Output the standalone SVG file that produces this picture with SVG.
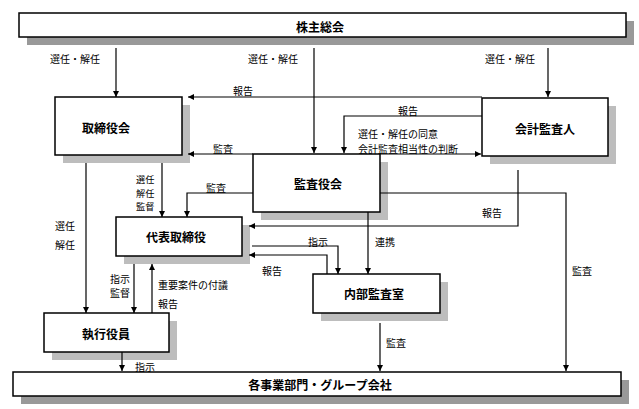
<svg xmlns="http://www.w3.org/2000/svg" width="639" height="409" viewBox="0 0 639 409">
<style>
.box{fill:#fff;stroke:#000;stroke-width:1.5}
.sh{fill:#bdbdbd}
.shd{fill:#999}
.t{font-family:"Noto Sans CJK JP","Noto Sans",sans-serif;font-size:12px;font-weight:bold;fill:#000;text-anchor:middle;dominant-baseline:central}
.l{font-family:"Noto Sans CJK JP","Noto Sans",sans-serif;font-size:10px;fill:#000;dominant-baseline:central}
.s{font-size:9.2px}
.c{fill:none;stroke:#000;stroke-width:1.2;marker-end:url(#ah)}
</style>
<defs>
<marker id="ah" markerUnits="userSpaceOnUse" markerWidth="8" markerHeight="8" refX="6" refY="3" orient="auto">
<path d="M0,0 L6,3 L0,6 Z" fill="#000"/>
</marker>
</defs>
<rect width="639" height="409" fill="#fff"/>
<g id="kabunushi">
<rect class="shd" x="27" y="21" width="607" height="24"/>
<rect class="box" x="19" y="13" width="607" height="24"/>
<text class="t" x="320" y="26">株主総会</text>
</g>
<g id="torishimariyakukai">
<rect class="sh" x="63" y="105" width="127" height="58"/>
<rect class="box" x="55" y="97" width="127" height="58"/>
<text class="t" x="106" y="127">取締役会</text>
</g>
<g id="kaikeikansanin">
<rect class="sh" x="490" y="106" width="126" height="58"/>
<rect class="box" x="482" y="98" width="126" height="58"/>
<text class="t" x="545" y="128">会計監査人</text>
</g>
<g id="kansayakukai">
<rect class="sh" x="261" y="162" width="127" height="58"/>
<rect class="box" x="253" y="154" width="127" height="58"/>
<text class="t" x="318" y="183">監査役会</text>
</g>
<g id="daihyo">
<rect class="sh" x="124" y="225" width="126" height="39"/>
<rect class="box" x="116" y="217" width="126" height="39"/>
<text class="t" x="176" y="236">代表取締役</text>
</g>
<g id="naibukansa">
<rect class="sh" x="321" y="282" width="127" height="39"/>
<rect class="box" x="313" y="274" width="127" height="39"/>
<text class="t" x="374" y="293">内部監査室</text>
</g>
<g id="shikkoyakuin">
<rect class="sh" x="52" y="321" width="125" height="39"/>
<rect class="box" x="44" y="313" width="125" height="39"/>
<text class="t" x="106" y="333">執行役員</text>
</g>
<g id="jigyobumon">
<rect class="shd" x="21" y="380" width="608" height="24"/>
<rect class="box" x="13" y="372" width="608" height="24"/>
<text class="t" x="320" y="384">各事業部門・グループ会社</text>
</g>
<g id="connectors">
<path class="c" d="M116,48 V97"/>
<path class="c" d="M314,48 V153"/>
<path class="c" d="M548,48 V97"/>
<path class="c" d="M482,97 H188"/>
<path class="c" d="M482,116 H344 V153"/>
<path class="c" d="M253,154 H188"/>
<path class="c" d="M380,154 H481"/>
<path class="c" d="M253,193 H187 V217"/>
<path class="c" d="M162,163 V217"/>
<path class="c" d="M86,163 V313"/>
<path class="c" d="M380,193 H566 V371"/>
<path class="c" d="M518,170 V226 H249"/>
<path class="c" d="M252,246 H338 V274"/>
<path class="c" d="M327,274 V255 H249"/>
<path class="c" d="M368,212 V274"/>
<path class="c" d="M380,323 V371"/>
<path class="c" d="M134,264 V313"/>
<path class="c" d="M152,313 V264"/>
<path class="c" d="M122,352 V371"/>
</g>
<g id="labels">
<text class="l" x="50" y="58">選任・解任</text>
<text class="l" x="248" y="58">選任・解任</text>
<text class="l" x="485" y="58">選任・解任</text>
<text class="l" x="233" y="90">報告</text>
<text class="l" x="398" y="110">報告</text>
<text class="l" x="358" y="133">選任・解任の同意</text>
<text class="l" x="358" y="148">会計監査相当性の判断</text>
<text class="l" x="213" y="148">監査</text>
<text class="l" x="206" y="187">監査</text>
<text class="l s" x="136" y="179">選任</text>
<text class="l s" x="136" y="192.5">解任</text>
<text class="l s" x="136" y="206">監督</text>
<text class="l" x="55" y="225">選任</text>
<text class="l" x="55" y="244">解任</text>
<text class="l" x="482" y="212">報告</text>
<text class="l" x="308" y="241">指示</text>
<text class="l" x="375" y="241">連携</text>
<text class="l" x="262" y="270">報告</text>
<text class="l" x="572" y="270">監査</text>
<text class="l" x="110" y="278">指示</text>
<text class="l" x="110" y="292">監督</text>
<text class="l" x="158" y="284">重要案件の付議</text>
<text class="l" x="158" y="303">報告</text>
<text class="l" x="386" y="342">監査</text>
<text class="l" x="135" y="366">指示</text>
</g>
</svg>
